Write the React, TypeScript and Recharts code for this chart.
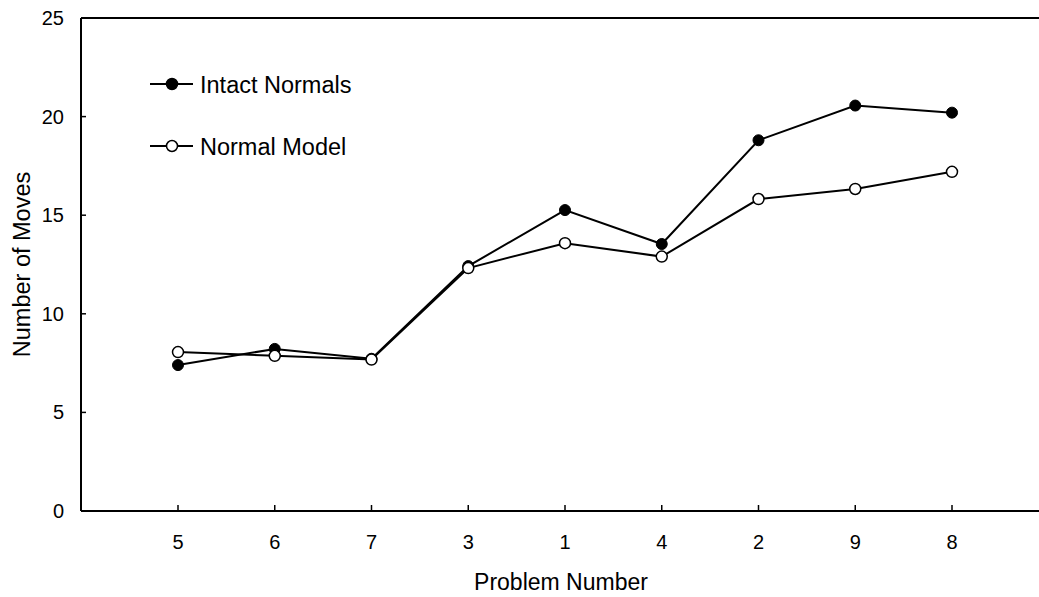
import { LineChart, Line, XAxis, YAxis, ReferenceLine, Legend } from 'recharts';

const problems = ['5', '6', '7', '3', '1', '4', '2', '9', '8'];
const intactNormals = [7.4, 8.22, 7.72, 12.42, 15.26, 13.54, 18.8, 20.56, 20.2];
const normalModel = [8.06, 7.87, 7.68, 12.32, 13.58, 12.9, 15.82, 16.33, 17.2];
const yTicks = [0, 5, 10, 15, 20, 25];

const data = problems.map((p, i) => ({
  problem: p,
  intact: intactNormals[i],
  model: normalModel[i],
}));

const FONT = '"Liberation Sans", Arial, sans-serif';

function XTick({ x, y, payload }: any) {
  return (
    <g>
      <line x1={x} y1={y} x2={x} y2={y - 6} stroke="#000" strokeWidth={1.5} />
      <text x={x} y={y + 38} textAnchor="middle" fontSize={20} fontFamily={FONT} fill="#000">
        {payload.value}
      </text>
    </g>
  );
}

function YTick({ x, y, payload }: any) {
  return (
    <g>
      <line x1={x} y1={y} x2={x + 5} y2={y} stroke="#000" strokeWidth={1.5} />
      <text x={x - 17} y={y + 7} textAnchor="end" fontSize={20} fontFamily={FONT} fill="#000">
        {payload.value}
      </text>
    </g>
  );
}

function XTitle({ viewBox }: any) {
  const cx = viewBox.x + viewBox.width / 2 - 4;
  return (
    <text x={cx} y={590} textAnchor="middle" fontSize={23} fontFamily={FONT} fill="#000">
      Problem Number
    </text>
  );
}

function YTitle({ viewBox }: any) {
  const cy = viewBox.y + viewBox.height / 2;
  return (
    <text
      x={30}
      y={cy}
      transform={`rotate(-90 30 ${cy})`}
      textAnchor="middle"
      fontSize={23.5}
      fontFamily={FONT}
      fill="#000"
    >
      Number of Moves
    </text>
  );
}

function LegendBox() {
  const rows = [
    { name: 'Intact Normals', fill: '#000', y: 26 },
    { name: 'Normal Model', fill: '#fff', y: 88 },
  ];
  return (
    <svg width={320} height={120} style={{ display: 'block' }}>
      {rows.map((r) => (
        <g key={r.name}>
          <line x1={5} y1={r.y} x2={48} y2={r.y} stroke="#000" strokeWidth={2} />
          <circle cx={27} cy={r.y} r={5.5} fill={r.fill} stroke="#000" strokeWidth={1.5} />
          <text x={55} y={r.y + 8.5} fontSize={23.5} fontFamily={FONT} fill="#000">
            {r.name}
          </text>
        </g>
      ))}
    </svg>
  );
}

export default function App() {
  return (
    <div
      style={{
        position: 'absolute',
        left: 0,
        top: 0,
        width: 1039,
        height: 597,
        overflow: 'hidden',
        background: '#fff',
      }}
    >
      <LineChart width={1049} height={597} data={data} margin={{ top: 18, right: 0, bottom: 0, left: 0 }}>
        <XAxis
          dataKey="problem"
          height={86}
          padding={{ left: 97, right: 97 }}
          tickSize={0}
          tickMargin={0}
          tickLine={false}
          axisLine={{ stroke: '#000', strokeWidth: 2 }}
          tick={<XTick />}
          interval={0}
          label={<XTitle />}
        />
        <YAxis
          width={81}
          domain={[0, 25]}
          ticks={yTicks}
          tickSize={0}
          tickMargin={0}
          tickLine={false}
          axisLine={{ stroke: '#000', strokeWidth: 2 }}
          tick={<YTick />}
          label={<YTitle />}
        />
        <ReferenceLine y={25} stroke="#000" strokeWidth={2} />
        <Legend
          layout="horizontal"
          align="center"
          verticalAlign="middle"
          content={<LegendBox />}
          wrapperStyle={{ position: 'absolute', left: 145, top: 58, width: 320, height: 120 }}
        />
        <Line
          dataKey="intact"
          name="Intact Normals"
          stroke="#000"
          strokeWidth={2}
          isAnimationActive={false}
          dot={{ r: 5.5, fill: '#000', stroke: '#000', strokeWidth: 1 }}
        />
        <Line
          dataKey="model"
          name="Normal Model"
          stroke="#000"
          strokeWidth={2}
          isAnimationActive={false}
          dot={{ r: 5.5, fill: '#fff', stroke: '#000', strokeWidth: 1.5 }}
        />
      </LineChart>
    </div>
  );
}
